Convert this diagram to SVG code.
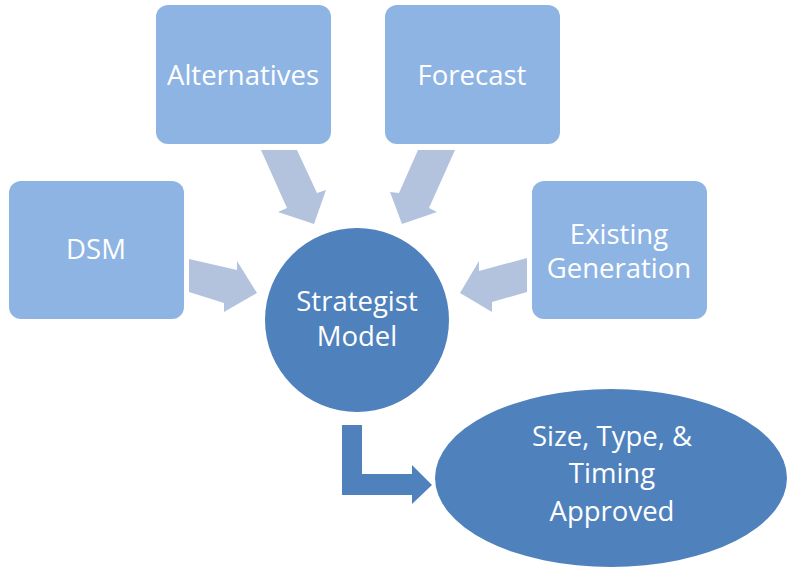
<svg xmlns="http://www.w3.org/2000/svg" width="787" height="568" viewBox="0 0 787 568">
  <style>
    .box { fill: #8EB4E3; }
    .hub { fill: #4F81BD; }
    .feed { fill: #B3C3DE; }
    .out { fill: #4F81BD; }
    text { font-family: "Open Sans", "Liberation Sans", sans-serif; font-size: 27.5px; fill: #FFFFFF; text-anchor: middle; }
  </style>
  <rect width="787" height="568" fill="#FFFFFF"/>

  <g id="connectors">
    <polygon class="feed" points="261,150 297,150 317,193 326,190 314,224 278,212 287,208"/>
    <polygon class="feed" points="418,150 455,150 429,208 437,212 402,224 390,192 399,193"/>
    <polygon class="feed" points="189,259 237,270 237,261 257,293 224,312 224,303 189,292"/>
    <polygon class="feed" points="527,258 527,292 492,302 492,312 460,293 479,261 479,271"/>
    <polygon class="out" points="342,425 362,425 362,474 412,474 412,465 432,485 412,504 412,495 342,495"/>
  </g>

  <g id="alternatives">
    <rect class="box" x="156" y="5" width="175" height="139" rx="12"/>
    <text x="243" y="85">Alternatives</text>
  </g>
  <g id="forecast">
    <rect class="box" x="385" y="5" width="175" height="139" rx="12"/>
    <text x="472" y="85">Forecast</text>
  </g>
  <g id="dsm">
    <rect class="box" x="9" y="181" width="175" height="138" rx="12"/>
    <text x="96" y="259">DSM</text>
  </g>
  <g id="existing-generation">
    <rect class="box" x="532" y="181" width="175" height="138" rx="12"/>
    <text x="619" y="244">Existing</text>
    <text x="619" y="278">Generation</text>
  </g>
  <g id="strategist-model">
    <circle class="hub" cx="357" cy="320" r="92"/>
    <text x="357" y="311">Strategist</text>
    <text x="357" y="346">Model</text>
  </g>
  <g id="approved">
    <ellipse class="hub" cx="611" cy="478" rx="176" ry="89"/>
    <text x="612" y="446">Size, Type, &amp;</text>
    <text x="612" y="483">Timing</text>
    <text x="612" y="521">Approved</text>
  </g>
</svg>
